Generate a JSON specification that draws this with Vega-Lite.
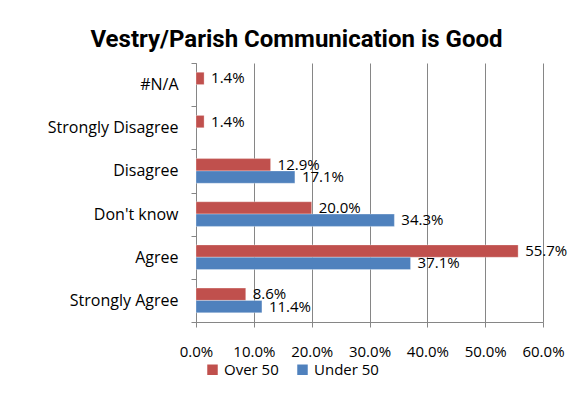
{
  "$schema": "https://vega.github.io/schema/vega-lite/v6.json",
  "width": 347,
  "height": 259,
  "autosize": {"type": "none"},
  "padding": {"left": 196, "top": 63, "right": 34, "bottom": 74},
  "background": "white",
  "title": {
    "text": "Vestry/Parish Communication is Good",
    "font": "Roboto",
    "fontSize": 24,
    "fontWeight": "bold",
    "color": "black",
    "anchor": "middle",
    "dx": -73,
    "offset": 3
  },
  "data": {
    "values": [
      {"response": "#N/A", "group": "Over 50", "value": 0.014},
      {"response": "Strongly Disagree", "group": "Over 50", "value": 0.014},
      {"response": "Disagree", "group": "Over 50", "value": 0.129},
      {"response": "Disagree", "group": "Under 50", "value": 0.171},
      {"response": "Don't know", "group": "Over 50", "value": 0.2},
      {"response": "Don't know", "group": "Under 50", "value": 0.343},
      {"response": "Agree", "group": "Over 50", "value": 0.557},
      {"response": "Agree", "group": "Under 50", "value": 0.371},
      {"response": "Strongly Agree", "group": "Over 50", "value": 0.086},
      {"response": "Strongly Agree", "group": "Under 50", "value": 0.114}
    ]
  },
  "encoding": {
    "y": {
      "field": "response",
      "type": "nominal",
      "sort": ["#N/A", "Strongly Disagree", "Disagree", "Don't know", "Agree", "Strongly Agree"],
      "scale": {"paddingInner": 0, "paddingOuter": 0},
      "axis": {
        "title": null,
        "tickBand": "extent",
        "domainColor": "#868686",
        "tickColor": "#868686",
        "tickSize": 5,
        "labelFont": "Open Sans",
        "labelFontSize": 16,
        "labelColor": "black",
        "labelPadding": 13,
        "grid": false
      }
    },
    "x": {
      "field": "value",
      "type": "quantitative",
      "scale": {"domain": [0, 0.6], "nice": false},
      "axis": {
        "title": null,
        "format": ".1%",
        "values": [0, 0.1, 0.2, 0.3, 0.4, 0.5, 0.6],
        "grid": true,
        "gridColor": "#868686",
        "domainColor": "#868686",
        "tickColor": "#868686",
        "tickSize": 5,
        "labelFont": "Open Sans",
        "labelFontSize": 15,
        "labelColor": "black",
        "labelPadding": 17,
        "labelFlush": false
      }
    },
    "yOffset": {
      "field": "group",
      "type": "nominal",
      "sort": ["Over 50", "Under 50"],
      "scale": {"paddingInner": 0, "paddingOuter": 0.75}
    }
  },
  "layer": [
    {
      "mark": {"type": "bar", "stroke": "white", "strokeWidth": 0.5, "strokeOpacity": 0.6},
      "encoding": {
        "color": {
          "field": "group",
          "type": "nominal",
          "sort": ["Over 50", "Under 50"],
          "scale": {"domain": ["Over 50", "Under 50"], "range": ["#C0504D", "#4F81BD"]},
          "legend": {
            "title": null,
            "orient": "none",
            "direction": "horizontal",
            "legendX": 9,
            "legendY": 299,
            "symbolType": "square",
            "symbolSize": 110,
            "symbolStrokeWidth": 0,
            "labelFont": "Open Sans",
            "labelFontSize": 15,
            "labelColor": "black",
            "columnPadding": 16,
            "labelOffset": 4
          }
        }
      }
    },
    {
      "mark": {"type": "text", "align": "left", "baseline": "middle", "dx": 7, "font": "Open Sans", "fontSize": 15, "color": "black"},
      "encoding": {
        "text": {"field": "value", "type": "quantitative", "format": ".1%"}
      }
    }
  ],
  "config": {
    "view": {"stroke": null}
  }
}
